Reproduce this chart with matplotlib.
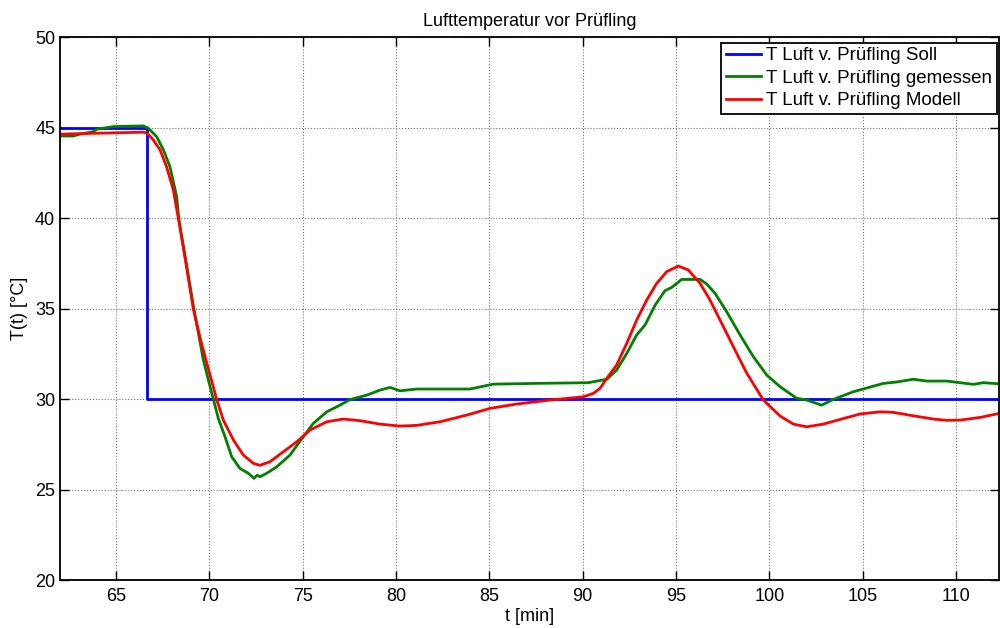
import matplotlib
matplotlib.use("Agg")
import matplotlib.pyplot as plt

# Sollwert (Sprung bei ca. 66.7 min)
t_soll = [62.0, 66.67, 66.67, 112.3]
T_soll = [45.0, 45.0, 30.0, 30.0]

# Messwerte
t_mess = [62.0, 62.71, 63.07, 63.79, 63.96, 64.86, 66.46, 66.73, 67.18, 67.54,
          67.89, 68.25, 68.36, 68.75, 69.17, 69.68, 70.04, 70.48, 70.84, 71.2,
          71.64, 72.09, 72.39, 72.57, 72.71, 73.07, 73.61, 74.32, 75.03, 75.57,
          76.29, 77.0, 77.54, 78.43, 79.14, 79.68, 80.21, 81.11, 83.96, 85.21,
          87.36, 90.3, 91.29, 91.82, 92.36, 92.89, 93.34, 93.88, 94.41, 94.77,
          95.3, 96.29, 96.64, 97.09, 97.71, 98.43, 99.14, 99.86, 100.57, 101.46,
          102.0, 102.8, 103.43, 104.5, 106.1, 106.82, 107.71, 108.43, 109.5, 110.21,
          110.93, 111.46, 112.3]
T_mess = [44.55, 44.55, 44.65, 44.79, 44.92, 45.07, 45.11, 44.98, 44.51, 43.78,
          42.85, 41.2, 40.0, 37.6, 35.0, 32.16, 30.69, 28.94, 27.92, 26.81,
          26.17, 25.90, 25.62, 25.80, 25.71, 25.90, 26.26, 26.91, 27.92, 28.66,
          29.30, 29.67, 29.98, 30.22, 30.50, 30.65, 30.46, 30.56, 30.56, 30.83,
          30.87, 30.91, 31.10, 31.61, 32.53, 33.55, 34.10, 35.20, 36.0, 36.18,
          36.62, 36.62, 36.37, 35.85, 34.84, 33.55, 32.35, 31.33, 30.69, 30.05,
          29.95, 29.67, 29.99, 30.41, 30.87, 30.95, 31.10, 31.0, 31.0, 30.91,
          30.82, 30.91, 30.85]

# Modell
t_mod = [62.0, 63.8, 66.46, 66.68, 67.0, 67.36, 67.71, 68.07, 68.34, 68.75,
         69.14, 69.5, 69.86, 70.21, 70.39, 70.75, 71.29, 71.82, 72.36, 72.71,
         73.25, 73.96, 74.68, 75.39, 76.29, 77.18, 78.07, 79.14, 80.21, 81.11,
         82.36, 83.79, 85.04, 86.46, 88.25, 90.04, 90.57, 90.93, 91.29, 91.82,
         92.36, 92.89, 93.43, 93.96, 94.5, 95.13, 95.66, 96.29, 96.82, 97.36,
         98.07, 98.79, 99.68, 100.57, 101.29, 102.0, 102.89, 103.79, 104.86, 105.93,
         106.64, 107.71, 108.79, 109.5, 110.21, 111.29, 112.3]
T_mod = [44.65, 44.70, 44.76, 44.70, 44.33, 43.78, 42.85, 41.57, 40.0, 37.5,
         35.0, 33.4, 32.0, 30.69, 29.99, 28.84, 27.74, 26.91, 26.45, 26.34,
         26.54, 27.09, 27.64, 28.29, 28.75, 28.90, 28.81, 28.62, 28.51, 28.55,
         28.75, 29.12, 29.49, 29.73, 29.95, 30.13, 30.32, 30.60, 31.15, 31.89,
         33.09, 34.37, 35.48, 36.40, 37.05, 37.36, 37.14, 36.40, 35.48, 34.37,
         32.90, 31.43, 29.95, 29.07, 28.62, 28.47, 28.62, 28.88, 29.18, 29.30,
         29.27, 29.08, 28.90, 28.83, 28.84, 28.99, 29.21]

x_ticks = [65, 70, 75, 80, 85, 90, 95, 100, 105, 110]
y_ticks = [20, 25, 30, 35, 40, 45, 50]

plt.rcParams['font.family'] = ['Liberation Sans', 'DejaVu Sans']

fig = plt.figure(figsize=(10, 6.28), dpi=100)
ax = fig.add_axes([0.06, 0.0764, 0.939, 0.864])

ax.plot(t_soll, T_soll, color="#0000ff", lw=2, label="T Luft v. Prüfling Soll")
ax.plot(t_mess, T_mess, color="#008000", lw=2, label="T Luft v. Prüfling gemessen")
ax.plot(t_mod, T_mod, color="#ff0000", lw=2, label="T Luft v. Prüfling Modell")

ax.set_xlim(62, 112.3)
ax.set_ylim(20, 50)
ax.set_xticks(x_ticks)
ax.set_yticks(y_ticks)
ax.tick_params(direction="in", length=6.5, width=1, labelsize=13,
               top=True, right=True)
ax.tick_params(axis="x", pad=6)
ax.tick_params(axis="y", pad=3.5)
for sp in ax.spines.values():
    sp.set_linewidth(1.3)
ax.grid(True, color="0.45", linestyle=":", linewidth=0.8)

ax.set_title("Lufttemperatur vor Prüfling", fontsize=13, pad=8)
ax.set_xlabel("t [min]", fontsize=13, labelpad=2)
ax.set_ylabel("T(t) [°C]", fontsize=13, labelpad=5)

leg = ax.legend(loc="upper right", bbox_to_anchor=(0.9975, 0.9904),
                fontsize=13.5, fancybox=False, framealpha=1,
                edgecolor="black", handlelength=1.9, handletextpad=0.25,
                labelspacing=0.28, borderpad=0.25, borderaxespad=0)
leg.get_frame().set_linewidth(1.3)

fig.savefig("out.png", dpi=100)
